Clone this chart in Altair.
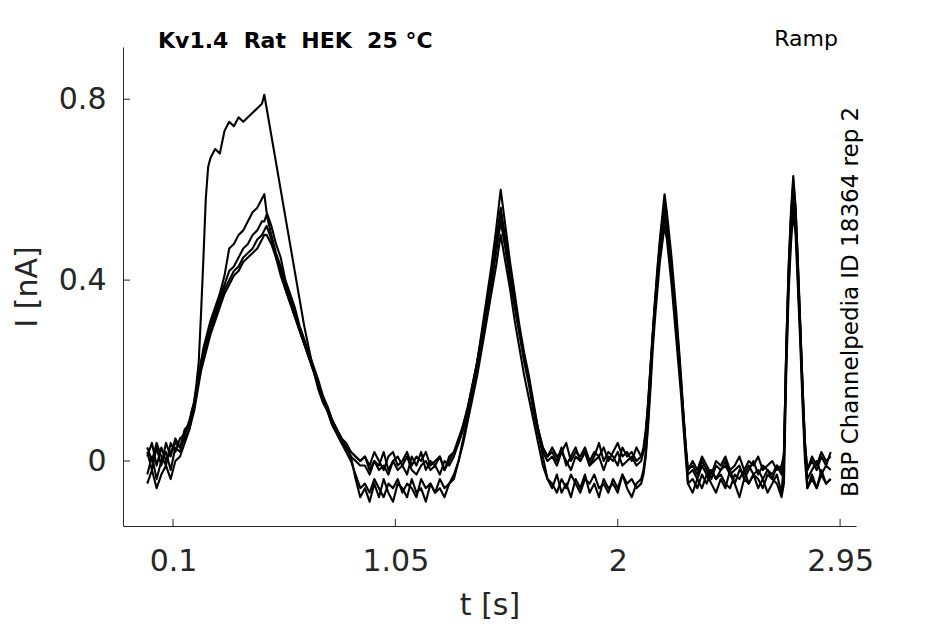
import altair as alt
import pandas as pd

# sample times [s]
T = [
    -0.01, 0.01, 0.03, 0.05, 0.07, 0.09, 0.11, 0.13, 0.15, 0.17,
    0.18, 0.19, 0.20, 0.21, 0.22, 0.23, 0.24, 0.25, 0.26, 0.28, 0.30, 0.32, 0.34, 0.36, 0.38, 0.40, 0.42, 0.44, 0.46, 0.48, 0.49, 0.50,
    0.52, 0.54, 0.56, 0.58, 0.60, 0.62, 0.64, 0.66, 0.68, 0.70, 0.72, 0.74, 0.76, 0.78, 0.80, 0.82, 0.84, 0.86, 0.88, 0.90,
    0.92, 0.94, 0.96, 0.98, 1.00, 1.02, 1.04, 1.06, 1.08, 1.10, 1.12, 1.14, 1.16, 1.18, 1.20, 1.22, 1.24, 1.26, 1.28,
    1.30, 1.32, 1.34, 1.36, 1.38, 1.40, 1.42, 1.44, 1.46, 1.48, 1.50, 1.52, 1.54, 1.56, 1.58, 1.60, 1.62, 1.64, 1.66, 1.68, 1.70,
    1.72, 1.74, 1.76, 1.78, 1.80, 1.82, 1.84, 1.86, 1.88, 1.90, 1.92, 1.94, 1.96, 1.98, 2.00, 2.02, 2.04, 2.06, 2.08, 2.10,
    2.11, 2.12, 2.13, 2.14, 2.15, 2.16, 2.17, 2.18, 2.19, 2.20, 2.21, 2.22, 2.23, 2.24, 2.25, 2.26, 2.27, 2.28, 2.29, 2.30,
    2.32, 2.34, 2.36, 2.38, 2.40, 2.42, 2.44, 2.46, 2.48, 2.50, 2.52, 2.54, 2.56, 2.58, 2.60, 2.62, 2.64, 2.66, 2.68, 2.70,
    2.71, 2.72, 2.73, 2.74, 2.75, 2.76, 2.77, 2.78, 2.79, 2.80, 2.81,
    2.83, 2.85, 2.87, 2.89, 2.91,
]

# current traces [nA]
SWEEP_1 = [
    -0.03, 0.01, -0.04, 0.00, 0.02, -0.02, 0.03, 0.02, 0.06, 0.08,
    0.11, 0.13, 0.17, 0.22, 0.33, 0.45, 0.58, 0.65, 0.67, 0.69, 0.68, 0.73, 0.75, 0.74, 0.76, 0.75, 0.76, 0.77, 0.78, 0.79, 0.81, 0.78,
    0.72, 0.66, 0.60, 0.54, 0.48, 0.42, 0.36, 0.30, 0.25, 0.20, 0.16, 0.13, 0.11, 0.08, 0.06, 0.04, 0.03, 0.01, -0.04, -0.08,
    -0.06, -0.09, -0.05, -0.08, -0.04, -0.07, -0.09, -0.05, -0.06, -0.08, -0.04, -0.07, -0.06, -0.09, -0.05, -0.07, -0.06, -0.08, -0.05,
    -0.04, 0.00, 0.05, 0.10, 0.16, 0.22, 0.29, 0.36, 0.43, 0.51, 0.60, 0.52, 0.44, 0.37, 0.30, 0.24, 0.19, 0.13, 0.07, 0.01, -0.04,
    -0.06, -0.03, -0.07, -0.05, -0.08, -0.04, -0.06, -0.03, -0.07, -0.05, -0.08, -0.04, -0.06, -0.05, -0.07, -0.03, -0.06, -0.08, -0.05, -0.04,
    -0.02, 0.02, 0.09, 0.18, 0.28, 0.36, 0.43, 0.49, 0.54, 0.59, 0.55, 0.50, 0.45, 0.39, 0.33, 0.26, 0.19, 0.11, 0.03, -0.05,
    -0.07, -0.04, -0.06, -0.03, -0.05, -0.07, -0.04, -0.06, -0.02, -0.05, -0.08, -0.04, -0.05, -0.03, -0.06, -0.04, -0.07, -0.05, -0.03, -0.07,
    0.00, 0.25, 0.43, 0.55, 0.63, 0.56, 0.44, 0.30, 0.16, 0.03, -0.06,
    -0.03, -0.06, -0.02, -0.05, -0.04,
]
SWEEP_2 = [
    0.02, -0.02, 0.03, -0.01, 0.04, 0.01, 0.05, 0.03, 0.07, 0.08,
    0.10, 0.12, 0.15, 0.19, 0.22, 0.25, 0.27, 0.29, 0.31, 0.34, 0.37, 0.41, 0.47, 0.48, 0.50, 0.51, 0.53, 0.55, 0.56, 0.58, 0.59, 0.55,
    0.52, 0.48, 0.45, 0.40, 0.37, 0.34, 0.30, 0.27, 0.24, 0.21, 0.18, 0.145, 0.12, 0.09, 0.07, 0.05, 0.04, 0.02, 0.01, 0.00,
    0.01, -0.02, 0.00, -0.01, 0.02, -0.02, 0.00, 0.01, -0.01, -0.03, 0.01, -0.01, 0.02, -0.02, 0.00, -0.01, 0.01, -0.02, 0.00,
    0.02, 0.04, 0.08, 0.12, 0.17, 0.22, 0.28, 0.34, 0.41, 0.48, 0.56, 0.49, 0.42, 0.35, 0.29, 0.23, 0.18, 0.12, 0.07, 0.03, 0.01,
    0.02, 0.00, 0.03, -0.01, 0.01, 0.03, 0.00, 0.02, -0.01, 0.01, 0.04, 0.00, 0.02, 0.01, -0.01, 0.03, 0.01, 0.02, 0.00, 0.01,
    0.03, 0.07, 0.13, 0.21, 0.29, 0.36, 0.42, 0.48, 0.53, 0.57, 0.53, 0.48, 0.43, 0.37, 0.31, 0.25, 0.18, 0.11, 0.04, -0.02,
    -0.01, -0.03, 0.00, -0.02, -0.04, -0.01, -0.02, 0.00, -0.03, -0.02, -0.01, -0.04, -0.02, 0.00, -0.03, -0.01, -0.02, -0.04, -0.01, -0.02,
    0.02, 0.24, 0.41, 0.52, 0.60, 0.54, 0.42, 0.29, 0.16, 0.04, -0.02,
    0.00, -0.02, 0.01, -0.01, 0.02,
]
SWEEP_3 = [
    0.03, 0.00, 0.04, 0.01, -0.01, 0.04, 0.02, 0.05, 0.06, 0.09,
    0.11, 0.13, 0.16, 0.19, 0.22, 0.24, 0.26, 0.28, 0.30, 0.33, 0.36, 0.39, 0.42, 0.43, 0.45, 0.47, 0.48, 0.50, 0.51, 0.53, 0.53, 0.545,
    0.50, 0.46, 0.43, 0.39, 0.36, 0.33, 0.29, 0.26, 0.23, 0.20, 0.17, 0.14, 0.115, 0.09, 0.07, 0.05, 0.03, 0.01, 0.00, -0.01,
    -0.01, -0.03, 0.00, -0.02, -0.01, -0.03, 0.00, -0.02, -0.01, 0.01, -0.02, -0.03, -0.01, 0.00, -0.02, -0.01, -0.03, 0.00, -0.01,
    0.01, 0.04, 0.07, 0.11, 0.16, 0.21, 0.27, 0.33, 0.39, 0.46, 0.53, 0.47, 0.40, 0.34, 0.28, 0.22, 0.17, 0.11, 0.06, 0.02, 0.00,
    0.01, -0.01, 0.02, 0.00, -0.02, 0.01, 0.00, 0.02, -0.01, 0.00, 0.01, -0.02, 0.01, 0.00, 0.02, -0.01, 0.00, 0.01, -0.01, 0.00,
    0.02, 0.06, 0.12, 0.20, 0.27, 0.34, 0.40, 0.46, 0.50, 0.54, 0.51, 0.46, 0.41, 0.35, 0.29, 0.23, 0.17, 0.10, 0.03, -0.03,
    -0.02, -0.04, -0.01, -0.03, -0.02, -0.04, -0.02, -0.01, -0.03, -0.05, -0.02, -0.03, -0.01, -0.03, -0.02, -0.04, -0.02, -0.03, -0.01, -0.03,
    -0.01, 0.22, 0.39, 0.50, 0.57, 0.52, 0.40, 0.28, 0.14, 0.02, -0.04,
    -0.02, 0.00, -0.03, -0.01, -0.02,
]
SWEEP_4 = [
    -0.05, -0.02, -0.06, -0.03, -0.01, -0.04, 0.00, 0.01, 0.04, 0.07,
    0.10, 0.12, 0.15, 0.18, 0.21, 0.23, 0.25, 0.27, 0.29, 0.32, 0.35, 0.38, 0.40, 0.42, 0.43, 0.45, 0.46, 0.47, 0.49, 0.50, 0.51, 0.52,
    0.49, 0.45, 0.42, 0.38, 0.35, 0.32, 0.29, 0.26, 0.23, 0.20, 0.17, 0.14, 0.11, 0.08, 0.06, 0.04, 0.02, 0.00, -0.03, -0.06,
    -0.05, -0.07, -0.04, -0.06, -0.08, -0.05, -0.06, -0.04, -0.07, -0.05, -0.06, -0.08, -0.04, -0.06, -0.05, -0.07, -0.04, -0.06, -0.05,
    -0.03, 0.00, 0.04, 0.09, 0.14, 0.19, 0.25, 0.31, 0.37, 0.43, 0.50, 0.44, 0.38, 0.31, 0.25, 0.19, 0.14, 0.09, 0.04, -0.01, -0.04,
    -0.05, -0.07, -0.04, -0.06, -0.03, -0.05, -0.07, -0.04, -0.05, -0.03, -0.06, -0.05, -0.07, -0.04, -0.06, -0.03, -0.05, -0.04, -0.06, -0.05,
    -0.03, 0.01, 0.08, 0.16, 0.25, 0.32, 0.38, 0.44, 0.48, 0.52, 0.49, 0.44, 0.39, 0.33, 0.27, 0.21, 0.15, 0.08, 0.01, -0.05,
    -0.04, -0.06, -0.03, -0.05, -0.02, -0.04, -0.03, -0.05, -0.06, -0.03, -0.04, -0.02, -0.05, -0.03, -0.04, -0.06, -0.03, -0.04, -0.05, -0.08,
    -0.05, 0.19, 0.37, 0.48, 0.55, 0.50, 0.38, 0.26, 0.12, 0.00, -0.06,
    -0.04, -0.06, -0.03, -0.05, -0.04,
]
SWEEP_5 = [
    0.01, 0.04, -0.01, 0.03, 0.00, 0.02, 0.04, 0.03, 0.05, 0.07,
    0.09, 0.11, 0.14, 0.17, 0.20, 0.22, 0.24, 0.26, 0.28, 0.31, 0.34, 0.37, 0.39, 0.41, 0.42, 0.44, 0.45, 0.46, 0.47, 0.49, 0.50, 0.50,
    0.48, 0.45, 0.41, 0.38, 0.35, 0.32, 0.29, 0.26, 0.23, 0.20, 0.17, 0.14, 0.12, 0.09, 0.07, 0.05, 0.03, 0.02, 0.01, 0.00,
    0.01, -0.01, 0.02, 0.00, -0.02, 0.01, 0.02, -0.01, 0.00, 0.02, -0.01, 0.01, 0.00, 0.02, -0.01, 0.00, 0.01, -0.02, 0.01,
    0.02, 0.05, 0.08, 0.12, 0.17, 0.22, 0.28, 0.34, 0.41, 0.48, 0.55, 0.49, 0.42, 0.35, 0.29, 0.23, 0.18, 0.12, 0.07, 0.03, 0.01,
    0.03, 0.01, 0.02, 0.04, 0.00, 0.02, 0.01, 0.03, 0.00, 0.02, 0.01, 0.03, 0.00, 0.02, 0.04, 0.01, 0.02, 0.00, 0.03, 0.01,
    0.02, 0.06, 0.13, 0.21, 0.28, 0.35, 0.41, 0.47, 0.51, 0.55, 0.52, 0.47, 0.42, 0.36, 0.30, 0.24, 0.17, 0.10, 0.03, -0.02,
    0.00, -0.02, 0.01, -0.01, -0.03, 0.00, -0.01, 0.01, -0.02, -0.01, 0.01, -0.02, 0.00, -0.01, 0.01, -0.02, -0.01, 0.00, -0.02, -0.01,
    0.01, 0.25, 0.42, 0.54, 0.62, 0.56, 0.43, 0.30, 0.16, 0.04, -0.02,
    0.01, -0.01, 0.02, 0.00, 0.01,
]

SWEEPS = {"1": SWEEP_1, "2": SWEEP_2, "3": SWEEP_3, "4": SWEEP_4, "5": SWEEP_5}

X_TICKS = [0.1, 1.05, 2, 2.95]
Y_TICKS = [0, 0.4, 0.8]
X_DOMAIN = [-0.1137, 3.018]
Y_DOMAIN = [-0.1437, 0.9155]

TITLE = "Kv1.4\u00a0\u00a0Rat\u00a0\u00a0HEK\u00a0\u00a025 °C"
PROTOCOL = "Ramp"
SOURCE = "BBP Channelpedia ID 18364 rep 2"

rows = []
for name, vals in SWEEPS.items():
    assert len(vals) == len(T), (name, len(vals), len(T))
    for t, v in zip(T, vals):
        rows.append({"t": t, "I": v, "sweep": name})
df = pd.DataFrame(rows)

W, H = 733, 479
AX = "#262626"
FONT = "DejaVu Sans"

xscale = alt.Scale(domain=X_DOMAIN, nice=False, zero=False)
yscale = alt.Scale(domain=Y_DOMAIN, nice=False, zero=False)

xaxis = alt.Axis(values=X_TICKS, format=".3~g", title="t [s]", labelPadding=20,
                 titleY=79, titleBaseline="middle", titleX=W / 2)
yaxis = alt.Axis(values=Y_TICKS, format=".2~g", title="I [nA]", labelPadding=17,
                 titleX=-96, titleY=H / 2, titleBaseline="middle", titleAngle=-90)

lines = alt.Chart(df).mark_line(color="black", strokeWidth=2.1, strokeJoin="round").encode(
    x=alt.X("t:Q", scale=xscale, axis=xaxis),
    y=alt.Y("I:Q", scale=yscale, axis=yaxis),
    detail="sweep:N",
)

xt = alt.Chart(pd.DataFrame({"t": X_TICKS})).mark_rule(color=AX, strokeWidth=1).encode(
    x=alt.X("t:Q", scale=xscale), y=alt.value(H), y2=alt.value(H - 7)
)
yt = alt.Chart(pd.DataFrame({"I": Y_TICKS})).mark_rule(color=AX, strokeWidth=1).encode(
    y=alt.Y("I:Q", scale=yscale), x=alt.value(0), x2=alt.value(7)
)

title = alt.Chart(pd.DataFrame({"s": [TITLE]})).mark_text(
    font=FONT, fontSize=22, fontWeight="bold", color="black", align="left", baseline="alphabetic"
).encode(text="s:N", x=alt.value(35), y=alt.value(1))

proto = alt.Chart(pd.DataFrame({"s": [PROTOCOL]})).mark_text(
    font=FONT, fontSize=22, color="black", align="right", baseline="alphabetic"
).encode(text="s:N", x=alt.value(715), y=alt.value(-1))

source = alt.Chart(pd.DataFrame({"s": [SOURCE]})).mark_text(
    font=FONT, fontSize=23, color="black", align="left", baseline="alphabetic", angle=270
).encode(text="s:N", x=alt.value(735), y=alt.value(450))

chart = alt.layer(lines, xt, yt, title, proto, source).properties(
    width=W, height=H,
    autosize=alt.AutoSizeParams(type="none"),
    padding={"left": 115, "top": 39, "right": 80, "bottom": 98},
).configure_view(strokeWidth=0).configure_axis(
    grid=False, ticks=False, tickSize=0, domainColor=AX, domainWidth=1,
    labelFont=FONT, labelFontSize=30, labelColor=AX,
    titleFont=FONT, titleFontSize=30, titleFontWeight="normal", titleColor=AX,
)

chart.save("out.html", embed_options={"renderer": "svg", "actions": False})
